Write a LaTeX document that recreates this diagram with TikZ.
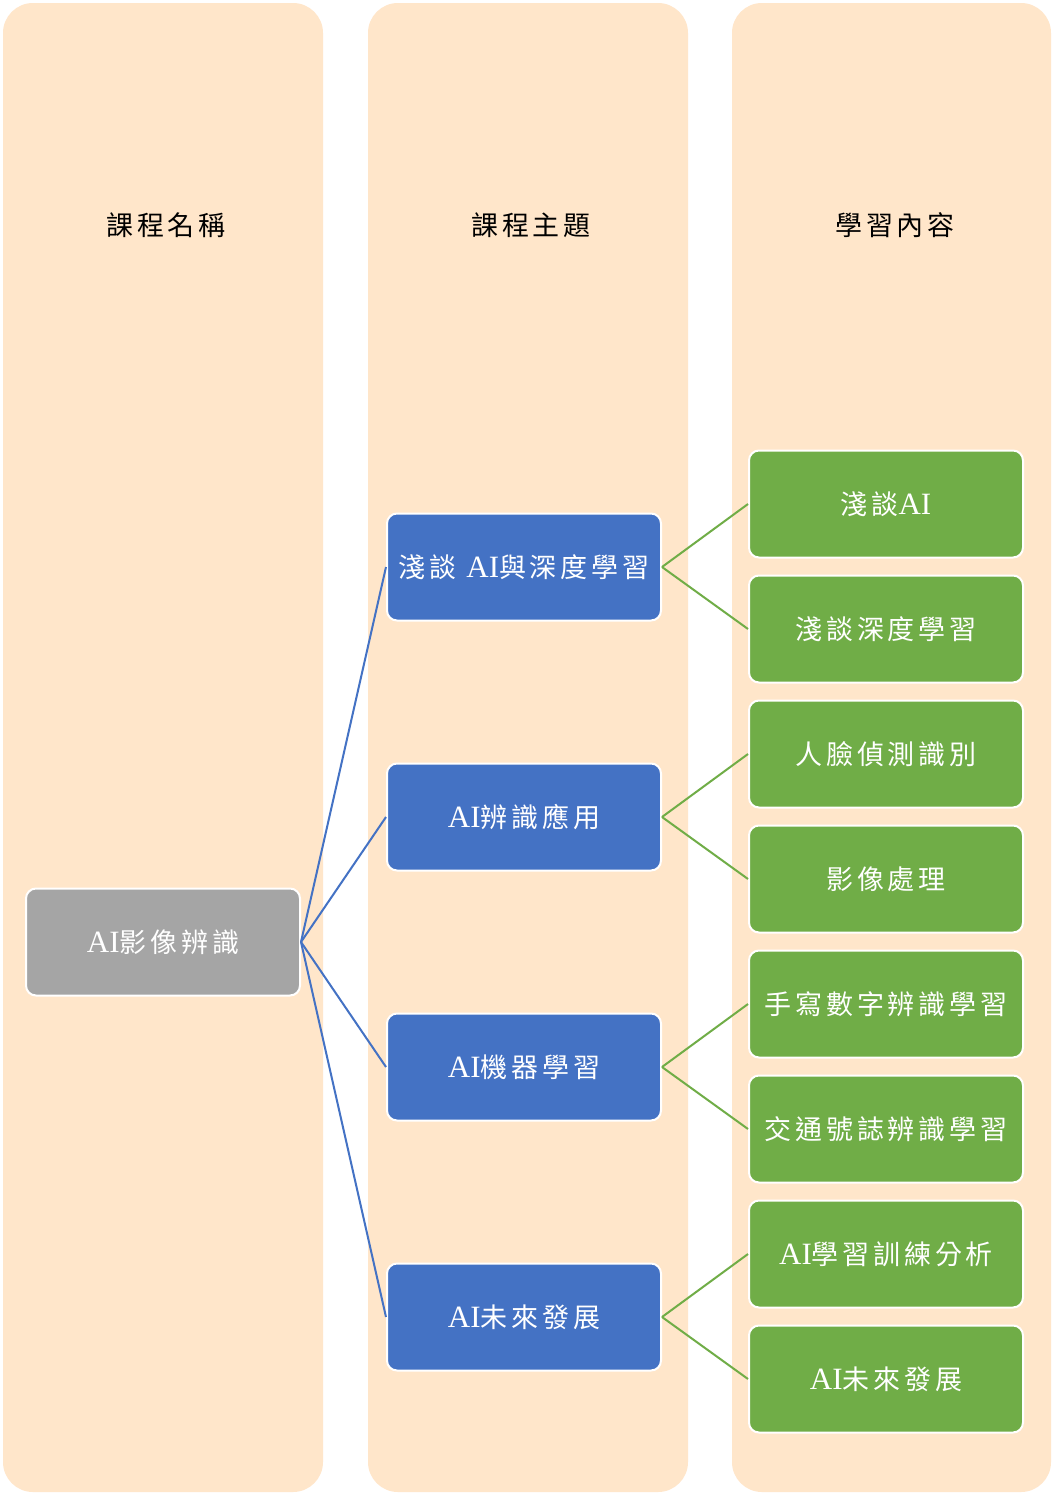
\documentclass[tikz,border=0pt]{standalone}
\usepackage{fontspec}
\setmainfont{Liberation Serif}
\newfontfamily\cjk[LetterSpace=14]{Noto Sans CJK TC}
\newcommand\ai{{\rmfamily\fontsize{31}{30}\selectfont AI}}
\definecolor{colbg}{HTML}{FFE6CA}
\definecolor{nblue}{HTML}{4472C4}
\definecolor{ngreen}{HTML}{70AD47}
\definecolor{ngray}{HTML}{A5A5A5}
\tikzset{
  colbox/.style={fill=colbg, draw=none, rounded corners=30pt},
  header/.style={font=\fontsize{27}{30}\selectfont\cjk, text=black},
  box/.style={draw=white, line width=2pt, rounded corners=10pt, minimum width=274pt, minimum height=107pt, inner sep=0pt, text=white, font=\fontsize{27}{30}\selectfont\cjk},
  graybox/.style={box, fill=ngray},
  bluebox/.style={box, fill=nblue},
  greenbox/.style={box, fill=ngreen},
  blueline/.style={draw=nblue, line width=2pt},
  greenline/.style={draw=ngreen, line width=2pt},
}
\begin{document}
\begin{tikzpicture}[x=1pt,y=-1pt]
\useasboundingbox (0,0) rectangle (1052,1494);
\fill[white] (0,0) rectangle (1052,1494);
% columns
\path[colbox] (3,3) rectangle (323,1492);
\path[colbox] (368,3) rectangle (688,1492);
\path[colbox] (732,3) rectangle (1051,1492);
\node[header] (h1) at (166,225) {課程名稱};
\node[header] (h2) at (531,225) {課程主題};
\node[header] (h3) at (895,225) {學習內容};
% root
\node[graybox] (root) at (163,942) {\ai 影像辨識};
% topics
\node[bluebox] (t1) at (524,567) {淺談 \ai 與深度學習};
\node[bluebox] (t2) at (524,817) {\ai 辨識應用};
\node[bluebox] (t3) at (524,1067) {\ai 機器學習};
\node[bluebox] (t4) at (524,1317) {\ai 未來發展};
% contents
\node[greenbox] (c1) at (886,504) {淺談\ai};
\node[greenbox] (c2) at (886,629) {淺談深度學習};
\node[greenbox] (c3) at (886,754) {人臉偵測識別};
\node[greenbox] (c4) at (886,879) {影像處理};
\node[greenbox] (c5) at (886,1004) {手寫數字辨識學習};
\node[greenbox] (c6) at (886,1129) {交通號誌辨識學習};
\node[greenbox] (c7) at (886,1254) {\ai 學習訓練分析};
\node[greenbox] (c8) at (886,1379) {\ai 未來發展};
% connectors
\foreach \t in {t1,t2,t3,t4} \draw[blueline] (root.east) -- (\t.west);
\draw[greenline] (t1.east) -- (c1.west);
\draw[greenline] (t1.east) -- (c2.west);
\draw[greenline] (t2.east) -- (c3.west);
\draw[greenline] (t2.east) -- (c4.west);
\draw[greenline] (t3.east) -- (c5.west);
\draw[greenline] (t3.east) -- (c6.west);
\draw[greenline] (t4.east) -- (c7.west);
\draw[greenline] (t4.east) -- (c8.west);
\end{tikzpicture}
\end{document}
